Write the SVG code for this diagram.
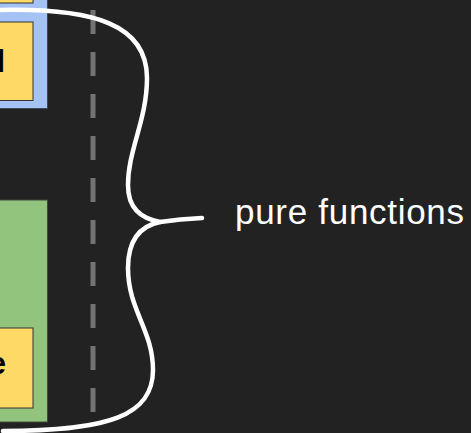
<svg xmlns="http://www.w3.org/2000/svg" width="471" height="433" viewBox="0 0 471 433">
<style>
.bg{fill:#222222}
.blue{fill:#a4c2f4;stroke:#3f4756;stroke-width:1}
.green{fill:#93c47d;stroke:#3f4a3a;stroke-width:1}
.yellow{fill:#ffd966;stroke:#333333;stroke-width:1}
.lbl{font-family:"Liberation Sans",Arial,sans-serif;font-weight:bold;font-size:31px;fill:#000000;text-anchor:end}
.brace{fill:none;stroke:#ffffff;stroke-width:4.5;stroke-linecap:round;stroke-linejoin:round}
.dash{stroke:#737373;stroke-width:5;stroke-dasharray:24 18}
.note{font-family:"Liberation Sans",Arial,sans-serif;font-size:35px;fill:#ffffff}
</style>
<rect class="bg" x="0" y="0" width="471" height="433"/>
<g id="top-group">
  <rect class="blue" x="-10" y="-10" width="57.5" height="118.5"/>
  <rect class="yellow" x="-10" y="-20" width="43" height="23"/>
  <g id="top-node">
    <rect class="yellow" x="-10" y="22" width="43" height="78.5"/>
    <text class="lbl" x="5" y="72">l</text>
  </g>
</g>
<g id="bottom-group">
  <rect class="green" x="-10" y="200" width="57.5" height="222"/>
  <g id="bottom-node">
    <rect class="yellow" x="-10" y="328" width="43" height="80"/>
    <text class="lbl" x="6" y="374">e</text>
  </g>
</g>
<g id="connectors">
  <line class="dash" x1="93" y1="10" x2="93" y2="412"/>
  <path class="brace" d="M 0 10 C 95 8, 147 25, 147 78 C 147 120, 128 150, 128 185 C 128 208, 140 218, 160 222 C 140 226, 128 240, 128 268 C 128 310, 153 330, 153 370 C 153 415, 110 431, 3 431"/>
  <path class="brace" d="M 160 222 Q 180 219 202 218"/>
</g>
<g id="label">
  <text class="note" x="235" y="224" textLength="229" lengthAdjust="spacing">pure functions</text>
</g>
</svg>
